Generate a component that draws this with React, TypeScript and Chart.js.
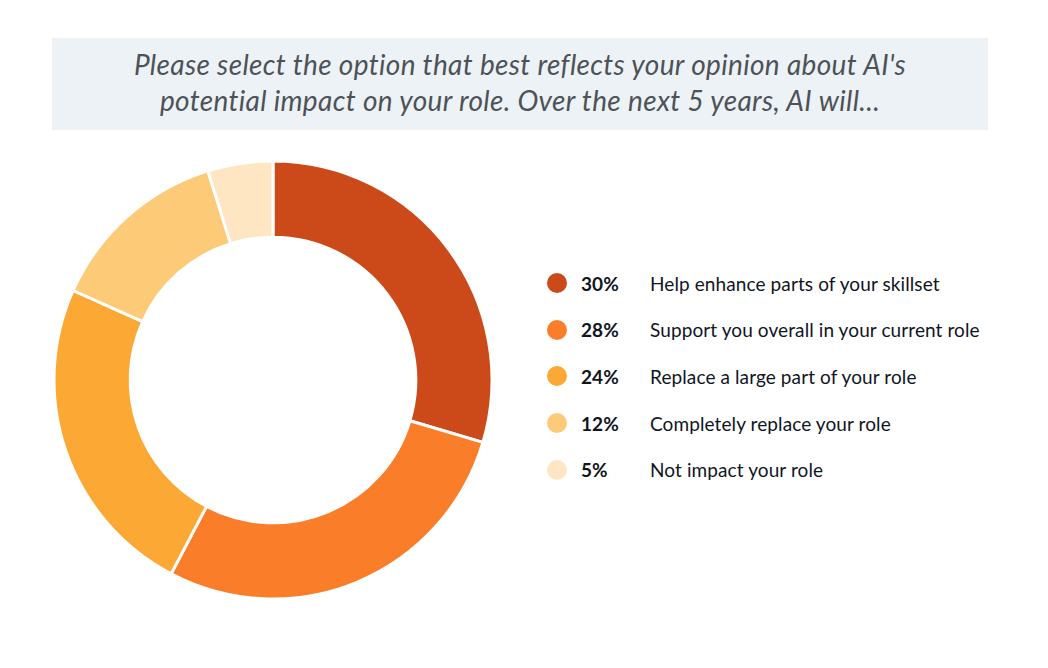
import React, { useEffect, useRef } from "react";
import { Chart, registerables } from "chart.js";

Chart.register(...registerables);

const titleLines = [
  "Please select the option that best reflects your opinion about AI's",
  "potential impact on your role. Over the next 5 years, AI will...",
];
const categories = [
  "Help enhance parts of your skillset",
  "Support you overall in your current role",
  "Replace a large part of your role",
  "Completely replace your role",
  "Not impact your role",
];
const percentLabels = ["30%", "28%", "24%", "12%", "5%"];
// slice sizes as drawn in the reference
const sliceValues = [29.6, 28.1, 24.0, 13.5, 4.8];
const colors = ["#cc4a1a", "#fa7e2a", "#fba834", "#fdca77", "#fee6c3"];

export default function App() {
  const canvasRef = useRef<HTMLCanvasElement | null>(null);

  useEffect(() => {
    const canvas = canvasRef.current;
    if (!canvas) return;
    const chart = new Chart(canvas, {
      type: "doughnut",
      data: {
        labels: categories,
        datasets: [
          {
            data: sliceValues,
            backgroundColor: colors,
            borderColor: "#ffffff",
            borderWidth: 3,
            hoverOffset: 0,
          },
        ],
      },
      options: {
        responsive: false,
        maintainAspectRatio: false,
        animation: false,
        radius: 219,
        cutout: 149,
        layout: { padding: 0 },
        plugins: {
          legend: { display: false },
          tooltip: { enabled: false },
          title: { display: false },
        },
      },
    });
    return () => chart.destroy();
  }, []);

  return (
    <div
      style={{
        position: "absolute",
        left: 0,
        top: 0,
        width: 1048,
        height: 668,
        background: "#ffffff",
        fontFamily: "Lato, 'Noto Sans', sans-serif",
      }}
    >
      <div
        style={{
          position: "absolute",
          left: 52,
          top: 38,
          width: 936,
          height: 88,
          paddingBottom: 4,
          background: "#edf2f6",
          display: "flex",
          flexDirection: "column",
          alignItems: "center",
          justifyContent: "center",
          color: "#4d5258",
          fontStyle: "italic",
          fontSize: 28,
          letterSpacing: "0.35px",
          lineHeight: "36px",
        }}
      >
        {titleLines.map((t, i) => (
          <div key={i} style={{ whiteSpace: "nowrap" }}>
            {t}
          </div>
        ))}
      </div>
      <canvas
        ref={canvasRef}
        width={460}
        height={460}
        style={{ position: "absolute", left: 43, top: 150, width: 460, height: 460 }}
      />
      {categories.map((c, i) => (
        <div
          key={i}
          style={{
            position: "absolute",
            left: 547,
            top: 283 + i * 46.7 - 12,
            height: 24,
            display: "flex",
            alignItems: "center",
            color: "#11151f",
            fontSize: 19,
            letterSpacing: "0.1px",
            whiteSpace: "nowrap",
          }}
        >
          <span
            style={{
              display: "inline-block",
              width: 20,
              height: 20,
              borderRadius: 10,
              background: colors[i],
            }}
          />
          <span style={{ position: "absolute", left: 34, fontWeight: 700 }}>
            {percentLabels[i]}
          </span>
          <span style={{ position: "absolute", left: 103 }}>{c}</span>
        </div>
      ))}
    </div>
  );
}
